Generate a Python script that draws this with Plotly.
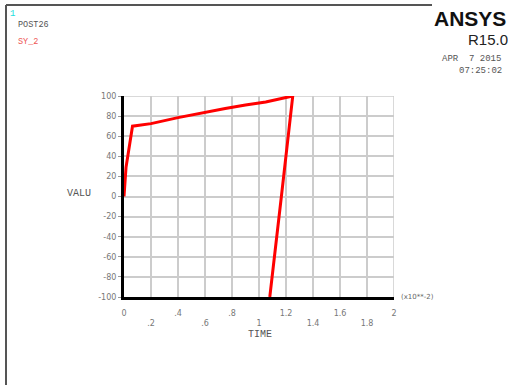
import plotly.graph_objects as go

# Data (TIME in units of x10**-2, VALU = SY_2)
time_vals = [0, 0.015, 0.063, 0.2, 0.4, 0.6, 0.75, 0.9, 1.05, 1.2, 1.25, 1.17, 1.08]
sy_vals = [0, 29, 70, 72.5, 78.5, 84, 87.5, 91, 94, 98.5, 100, 5, -100]

x_ticks = [0, 0.2, 0.4, 0.6, 0.8, 1.0, 1.2, 1.4, 1.6, 1.8, 2.0]
x_tick_labels = ["0", ".2", ".4", ".6", ".8", "1", "1.2", "1.4", "1.6", "1.8", "2"]
y_ticks = [-100, -80, -60, -40, -20, 0, 20, 40, 60, 80, 100]
y_tick_labels = [str(v) for v in y_ticks]

W, H = 508, 385
L, R, T, B = 124, 114, 96, 88
PW, PH = W - L - R, H - T - B


def px(xp):
    return (xp - L) / PW


def py(yp):
    return (H - B - yp) / PH


# stagger x tick labels in two rows
x_text = [lab if i % 2 == 0 else "<br>" + lab for i, lab in enumerate(x_tick_labels)]

fig = go.Figure()
fig.add_trace(go.Scatter(x=time_vals, y=sy_vals, mode="lines",
                         line=dict(color="#ff0000", width=3), showlegend=False,
                         hoverinfo="skip"))

grid = "#cccccc"
tickfont = dict(family="DejaVu Sans, sans-serif", size=8, color="#777777")
mono = "Liberation Mono, Courier New, monospace"

fig.update_layout(
    width=W, height=H,
    margin=dict(l=L, r=R, t=T, b=B),
    paper_bgcolor="white", plot_bgcolor="white",
    xaxis=dict(range=[0, 2], tickvals=x_ticks, ticktext=x_text, showgrid=True,
               gridcolor=grid, gridwidth=1.5, zeroline=False, showline=True,
               linecolor="black", linewidth=3, ticks="", tickfont=tickfont,
               ticklabelstandoff=6, fixedrange=True),
    yaxis=dict(range=[-100, 100], tickvals=y_ticks, ticktext=y_tick_labels,
               showgrid=True, gridcolor=grid, gridwidth=1.5, zeroline=False,
               showline=True, linecolor="black", linewidth=3, ticks="outside",
               ticklen=3, tickcolor="#999999", tickfont=tickfont, fixedrange=True),
)

# right/top edge grid lines
fig.add_shape(type="line", xref="x", yref="y", x0=2, x1=2, y0=-100, y1=100,
              line=dict(color=grid, width=1.5), layer="below")
fig.add_shape(type="line", xref="x", yref="y", x0=0, x1=2, y0=100, y1=100,
              line=dict(color=grid, width=1.5), layer="below")

# page frame lines
fig.add_shape(type="line", xref="paper", yref="paper", x0=px(6), x1=px(6),
              y0=py(5), y1=py(390), line=dict(color="#555555", width=2))
fig.add_shape(type="line", xref="paper", yref="paper", x0=px(6), x1=px(432),
              y0=py(5), y1=py(5), line=dict(color="#555555", width=2))


def text(s, x, y, size=8, color="#555555", family=mono, xanchor="left",
         yanchor="middle", bold=False):
    if bold:
        s = "<b>" + s + "</b>"
    fig.add_annotation(text=s, xref="paper", yref="paper", x=px(x), y=py(y),
                       xanchor=xanchor, yanchor=yanchor, showarrow=False,
                       font=dict(family=family, size=size, color=color))


text("1", 8, 14, size=9, color="#22dddd")
text("POST26", 16, 25, size=8.5)
text("SY_2", 16, 42, size=8.5, color="#ee5555")
text("ANSYS", 432, 18, size=21, color="#111111",
     family="Liberation Sans Narrow, Arial Narrow, Liberation Sans, Arial", bold=True)
text("R15.0", 466, 39, size=15, color="#222222",
     family="Liberation Sans, Arial, sans-serif")
text("APR  7 2015", 440, 59, size=9)
text("07:25:02", 457, 71, size=9)
text("VALU", 65, 193, size=10)
text("TIME", 246, 334, size=10)
text("(x10**-2)", 399, 297, size=7, color="#666666",
     family="DejaVu Sans, sans-serif")

fig.write_html("out.html", config={"displayModeBar": False},
               post_script="document.body.style.margin='0';document.body.style.overflow='hidden';")
